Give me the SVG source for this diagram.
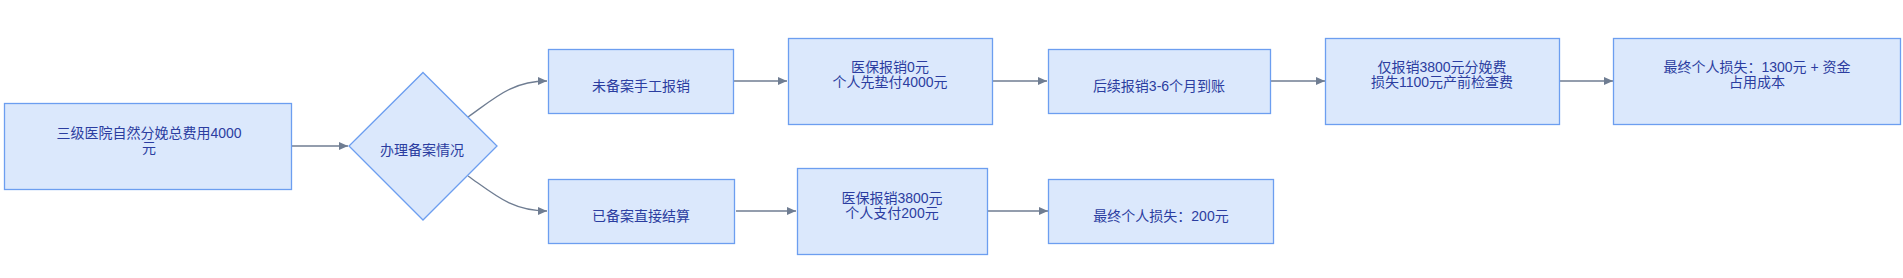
<svg xmlns="http://www.w3.org/2000/svg" width="1903" height="278" viewBox="0 0 1903 278">
<style>
.n{fill:#dbe8fc;stroke:#6c9ef0;stroke-width:1.3}
.t{font-family:"Liberation Sans","Noto Sans CJK SC",sans-serif;font-size:14px;fill:#2b3da0;text-anchor:middle;dominant-baseline:central}
.e{fill:none;stroke:#6f7d92;stroke-width:1.3}
</style>
<defs>
<marker id="ah" markerUnits="userSpaceOnUse" markerWidth="10" markerHeight="10" refX="9" refY="5" orient="auto">
<path d="M0,1 L9,5 L0,9 z" fill="#6f7d92"/>
</marker>
</defs>
<rect width="1903" height="278" fill="#ffffff"/>
<g id="edges">
<path class="e" d="M292,146 L348,146" marker-end="url(#ah)"/>
<path class="e" d="M468,117 C495,98 512,81 547,81" marker-end="url(#ah)"/>
<path class="e" d="M468,176 C495,195 512,211 547,211" marker-end="url(#ah)"/>
<path class="e" d="M734,81 L787,81" marker-end="url(#ah)"/>
<path class="e" d="M993,81 L1047,81" marker-end="url(#ah)"/>
<path class="e" d="M1271,81 L1325,81" marker-end="url(#ah)"/>
<path class="e" d="M1560,81 L1613,81" marker-end="url(#ah)"/>
<path class="e" d="M736,211 L796,211" marker-end="url(#ah)"/>
<path class="e" d="M988,211 L1048,211" marker-end="url(#ah)"/>
</g>
<g id="n1"><rect class="n" x="4.5" y="103.5" width="287" height="86"/>
<text class="t" x="149" y="133">三级医院自然分娩总费用4000</text><text class="t" x="149" y="148">元</text></g>
<g id="n2"><polygon class="n" points="423,72.5 497,146 423,220 349,146"/>
<text class="t" x="422" y="150">办理备案情况</text></g>
<g id="nA"><rect class="n" x="548.5" y="49.5" width="185" height="64"/>
<text class="t" x="641" y="86">未备案手工报销</text></g>
<g id="nB"><rect class="n" x="788.5" y="38.5" width="204" height="86"/>
<text class="t" x="890" y="67">医保报销0元</text><text class="t" x="890" y="82">个人先垫付4000元</text></g>
<g id="nC"><rect class="n" x="1048.5" y="49.5" width="222" height="64"/>
<text class="t" x="1159" y="86">后续报销3-6个月到账</text></g>
<g id="nD"><rect class="n" x="1325.5" y="38.5" width="234" height="86"/>
<text class="t" x="1442" y="67">仅报销3800元分娩费</text><text class="t" x="1442" y="82">损失1100元产前检查费</text></g>
<g id="nE"><rect class="n" x="1613.5" y="38.5" width="287" height="86"/>
<text class="t" x="1757" y="67">最终个人损失：1300元 + 资金</text><text class="t" x="1757" y="82">占用成本</text></g>
<g id="nF"><rect class="n" x="548.5" y="179.5" width="186" height="64"/>
<text class="t" x="641" y="216">已备案直接结算</text></g>
<g id="nG"><rect class="n" x="797.5" y="168.5" width="190" height="86"/>
<text class="t" x="892" y="198">医保报销3800元</text><text class="t" x="892" y="213">个人支付200元</text></g>
<g id="nH"><rect class="n" x="1048.5" y="179.5" width="225" height="64"/>
<text class="t" x="1161" y="216">最终个人损失：200元</text></g>
</svg>
